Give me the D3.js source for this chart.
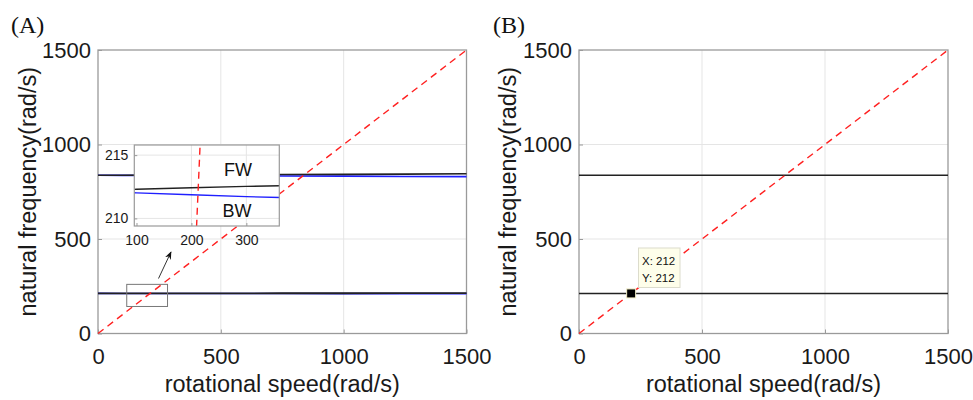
<!DOCTYPE html>
<html><head><meta charset="utf-8">
<script src="https://cdn.jsdelivr.net/npm/d3@7/dist/d3.min.js"></script>
<style>body{margin:0;background:#fff}svg{display:block}</style>
</head><body>
<svg id="c" width="973" height="400"></svg>
<script>
// ---- data ----
const speed = [0, 100, 200, 300, 400, 500, 750, 1000, 1250, 1500];
const upperFW = [837, 837.5, 838, 838.5, 839, 839.5, 841, 842, 843.5, 845];
const upperBW = [837, 836.5, 836, 835.5, 835, 834.5, 833.5, 832.5, 831, 830];
const lowerFW = [212.2, 212.3, 212.42, 212.53, 212.62, 212.7, 212.85, 213.0, 213.1, 213.2];
const lowerBW = [212.15, 212.02, 211.87, 211.72, 211.6, 211.5, 211.35, 211.2, 211.1, 211.0];
const bSpeed = [0, 1500];
const bUpper = [837, 837];
const bLower = [212, 212];
const diag = [0, 1500];
const ticks = [0, 500, 1000, 1500];
const insetXTicks = [100, 200, 300];
const insetYTicks = [210, 215];
const tipPoint = {x: 212, y: 212};
const zoomBox = {x0: 117, x1: 283, y0: 143, y1: 260};

const svg = d3.select('#c');
const sans = 'Liberation Sans, Arial, sans-serif';
const gridC = '#e5e5e5', frameC = '#9a9a9a';
const FS = 22, TS = 23.5;

function panel(left, right, label, labelX, titleX) {
  const x = d3.scaleLinear().domain([0, 1500]).range([left, right]);
  const y = d3.scaleLinear().domain([0, 1500]).range([333.5, 50]);
  const g = svg.append('g');
  g.selectAll('.gx').data(ticks.slice(1, -1)).enter().append('line')
    .attr('x1', d => x(d)).attr('x2', d => x(d)).attr('y1', y(0)).attr('y2', y(1500))
    .attr('stroke', gridC).attr('stroke-width', 1);
  g.selectAll('.gy').data(ticks.slice(1, -1)).enter().append('line')
    .attr('y1', d => y(d)).attr('y2', d => y(d)).attr('x1', x(0)).attr('x2', x(1500))
    .attr('stroke', gridC).attr('stroke-width', 1);
  const ax = g.append('g').attr('transform', `translate(0,${y(0)})`)
    .call(d3.axisBottom(x).tickValues(ticks).tickSize(-4).tickPadding(15).tickFormat(d3.format('d')));
  const ay = g.append('g').attr('transform', `translate(${x(0)},0)`)
    .call(d3.axisLeft(y).tickValues(ticks).tickSize(-4).tickPadding(7).tickFormat(d3.format('d')));
  [ax, ay].forEach(a => {
    a.select('.domain').remove();
    a.selectAll('line').attr('stroke', frameC);
    a.selectAll('text').attr('font-family', sans).attr('font-size', FS).attr('fill', '#1a1a1a');
  });
  ax.selectAll('text').attr('dy', '0.71em');
  g.append('rect').attr('x', x(0)).attr('y', y(1500)).attr('width', x(1500) - x(0)).attr('height', y(0) - y(1500))
    .attr('fill', 'none').attr('stroke', frameC).attr('stroke-width', 1.3);
  g.append('text').attr('x', (x(0) + x(1500)) / 2).attr('y', 392).attr('text-anchor', 'middle')
    .attr('font-family', sans).attr('font-size', TS).attr('fill', '#1a1a1a').text('rotational speed(rad/s)');
  g.append('text').attr('transform', `translate(${titleX},${(y(0) + y(1500)) / 2}) rotate(-90)`)
    .attr('text-anchor', 'middle').attr('font-family', sans).attr('font-size', TS).attr('fill', '#1a1a1a')
    .text('natural frequency(rad/s)');
  g.append('text').attr('x', labelX).attr('y', 33).attr('font-family', 'Liberation Serif, Times New Roman, serif')
    .attr('font-size', 24).attr('fill', '#111').text(label);
  return {g, x, y};
}

function drawLine(g, x, y, xs, ys, color, w, dash) {
  const l = d3.line().x((d, i) => x(xs[i])).y(d => y(d));
  const p = g.append('path').datum(ys).attr('d', l).attr('fill', 'none')
    .attr('stroke', color).attr('stroke-width', w);
  if (dash) p.attr('stroke-dasharray', dash);
  return p;
}

// ---------- Panel A ----------
const A = panel(98, 466.5, '(A)', 11, 36);
drawLine(A.g, A.x, A.y, speed, upperBW, '#1f1fff', 1.6);
drawLine(A.g, A.x, A.y, speed, upperFW, '#222', 1.6);
drawLine(A.g, A.x, A.y, speed, lowerBW, '#1f1fff', 1.6);
drawLine(A.g, A.x, A.y, speed, lowerFW, '#222', 1.8);
drawLine(A.g, A.x, A.y, diag, diag, '#ff2020', 1.4, '7,5');
A.g.append('rect').attr('x', A.x(zoomBox.x0)).attr('y', A.y(zoomBox.y1))
  .attr('width', A.x(zoomBox.x1) - A.x(zoomBox.x0)).attr('height', A.y(zoomBox.y0) - A.y(zoomBox.y1))
  .attr('fill', 'none').attr('stroke', '#777').attr('stroke-width', 1);
svg.append('defs').append('marker').attr('id', 'ah').attr('viewBox', '0 0 10 10').attr('refX', 9).attr('refY', 5)
  .attr('markerWidth', 8).attr('markerHeight', 8).attr('orient', 'auto')
  .append('path').attr('d', 'M0,1 L10,5 L0,9 L3,5 Z').attr('fill', '#111');
A.g.append('line').attr('x1', 158.5).attr('y1', 278.5).attr('x2', 171).attr('y2', 252)
  .attr('stroke', '#333').attr('stroke-width', 1).attr('marker-end', 'url(#ah)');

// inset
const ix = d3.scaleLinear().domain([96, 360]).range([134.3, 279.3]);
const iy = d3.scaleLinear().domain([209.4, 215.8]).range([226, 145]);
const ig = svg.append('g');
ig.append('rect').attr('x', 134.3).attr('y', 145).attr('width', 145).attr('height', 81).attr('fill', '#fff');
ig.selectAll('.igx').data(insetXTicks.slice(1)).enter().append('line')
  .attr('x1', d => ix(d)).attr('x2', d => ix(d)).attr('y1', 145).attr('y2', 226).attr('stroke', gridC);
ig.selectAll('.igy').data(insetYTicks).enter().append('line')
  .attr('y1', d => iy(d)).attr('y2', d => iy(d)).attr('x1', 134.3).attr('x2', 279.3).attr('stroke', gridC);
const iax = ig.append('g').attr('transform', 'translate(0,226)')
  .call(d3.axisBottom(ix).tickValues(insetXTicks).tickSize(-3).tickPadding(9).tickFormat(d3.format('d')));
const iay = ig.append('g').attr('transform', 'translate(134.3,0)')
  .call(d3.axisLeft(iy).tickValues(insetYTicks).tickSize(-3).tickPadding(6).tickFormat(d3.format('d')));
[iax, iay].forEach(a => {
  a.select('.domain').remove();
  a.selectAll('line').attr('stroke', frameC);
  a.selectAll('text').attr('font-family', sans).attr('font-size', 14).attr('fill', '#1a1a1a');
});
svg.append('clipPath').attr('id', 'ic').append('rect')
  .attr('x', 134.3).attr('y', 145).attr('width', 145).attr('height', 81);
const icg = ig.append('g').attr('clip-path', 'url(#ic)');
drawLine(icg, ix, iy, speed, lowerFW, '#222', 1.4);
drawLine(icg, ix, iy, speed, lowerBW, '#1f1fff', 1.4);
drawLine(icg, ix, iy, diag, diag, '#ff2020', 1.4, '7,5');
ig.append('rect').attr('x', 134.3).attr('y', 145).attr('width', 145).attr('height', 81)
  .attr('fill', 'none').attr('stroke', frameC).attr('stroke-width', 1.2);
ig.append('text').attr('x', 238).attr('y', 176).attr('text-anchor', 'middle').attr('font-family', sans)
  .attr('font-size', 18).attr('fill', '#111').text('FW');
ig.append('text').attr('x', 237).attr('y', 217).attr('text-anchor', 'middle').attr('font-family', sans)
  .attr('font-size', 18).attr('fill', '#111').text('BW');

// ---------- Panel B ----------
const B = panel(579, 948, '(B)', 493, 516);
drawLine(B.g, B.x, B.y, bSpeed, bUpper, '#222', 1.6);
drawLine(B.g, B.x, B.y, bSpeed, bLower, '#222', 1.6);
drawLine(B.g, B.x, B.y, diag, diag, '#ff2020', 1.4, '7,5');
const px = B.x(tipPoint.x), py = B.y(tipPoint.y);
B.g.append('rect').attr('x', px - 4.5).attr('y', py - 4.5).attr('width', 9).attr('height', 9)
  .attr('fill', '#000').attr('stroke', '#f4f0c8').attr('stroke-width', 1);
B.g.append('rect').attr('x', 638.5).attr('y', 248).attr('width', 41.5).attr('height', 39.5)
  .attr('fill', '#fefeea').attr('stroke', '#dcdccc').attr('stroke-width', 1);
B.g.append('text').attr('x', 642).attr('y', 264.5).attr('font-family', sans).attr('font-size', 11.5)
  .attr('fill', '#111').text('X: ' + tipPoint.x);
B.g.append('text').attr('x', 642).attr('y', 281.5).attr('font-family', sans).attr('font-size', 11.5)
  .attr('fill', '#111').text('Y: ' + tipPoint.y);
</script>
</body></html>
